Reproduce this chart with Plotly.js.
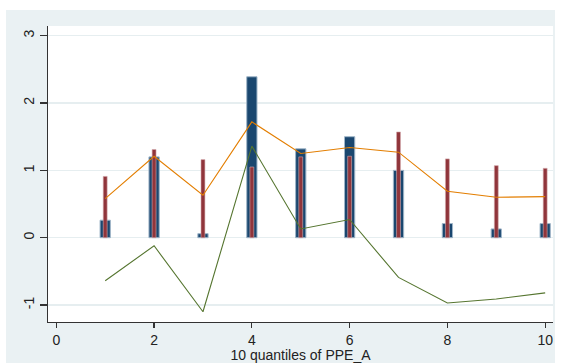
<!DOCTYPE html>
<html>
<head>
<meta charset="utf-8">
<script src="https://cdn.plot.ly/plotly-3.0.1.min.js"></script>
<style>
html,body{margin:0;padding:0;background:#ffffff;}
#chart{position:absolute;left:6px;top:10px;width:549px;height:353px;}
</style>
</head>
<body>
<div id="chart"></div>
<script>
const quantiles = [1,2,3,4,5,6,7,8,9,10];
const navyBars = [0.26,1.20,0.06,2.39,1.32,1.50,1.00,0.21,0.13,0.21];
const maroonBars = [0.91,1.31,1.16,1.05,1.20,1.21,1.57,1.17,1.07,1.03];
const orangeLine = [0.58,1.21,0.63,1.72,1.25,1.34,1.27,0.69,0.60,0.61];
const greenLine = [-0.64,-0.12,-1.10,1.36,0.13,0.27,-0.59,-0.97,-0.91,-0.82];
const xTicks = [0,2,4,6,8,10];
const yTicks = [-1,0,1,2,3];
const xTitle = "10 quantiles of PPE_A";

const traces = [
  {type:'bar', x:quantiles, y:navyBars, width:0.21,
   marker:{color:'#1a476f', line:{color:'#9fb5c8', width:1}}, hoverinfo:'none'},
  {type:'bar', x:quantiles, y:maroonBars, width:0.08,
   marker:{color:'#90353b', line:{color:'#d4a9ac', width:0.6}}, hoverinfo:'none'},
  {type:'scatter', mode:'lines', x:quantiles, y:orangeLine,
   line:{color:'#e37e00', width:1.1}, hoverinfo:'none'},
  {type:'scatter', mode:'lines', x:quantiles, y:greenLine,
   line:{color:'#55752f', width:1.1}, hoverinfo:'none'}
];

const layout = {
  width:549, height:353,
  margin:{l:42, r:2, t:16, b:41},
  paper_bgcolor:'#eaf1f3',
  plot_bgcolor:'#ffffff',
  barmode:'overlay',
  showlegend:false,
  font:{family:'Liberation Sans, Arial, sans-serif', color:'#222', size:13},
  xaxis:{
    range:[-0.17,10.16], tickvals:xTicks, ticktext:xTicks.map(String),
    showgrid:false, zeroline:false, showline:true, linecolor:'#333', linewidth:1.3,
    ticks:'outside', ticklen:5, tickcolor:'#333', tickwidth:1.2,
    tickfont:{size:14},
    title:{text:xTitle, font:{size:14}, standoff:0}
  },
  yaxis:{
    range:[-1.252,3.144], tickvals:yTicks, ticktext:yTicks.map(String),
    showgrid:true, gridcolor:'#e6eef0', gridwidth:1.2, zeroline:false,
    showline:true, linecolor:'#333', linewidth:1.3,
    ticks:'outside', ticklen:7, tickcolor:'#333', tickwidth:1.2,
    tickangle:-90, tickfont:{size:14}
  }
};

Plotly.newPlot('chart', traces, layout, {staticPlot:true, displayModeBar:false});
</script>
</body>
</html>
